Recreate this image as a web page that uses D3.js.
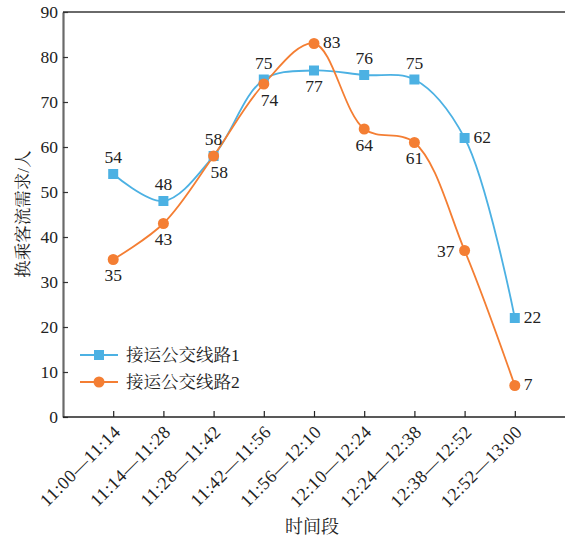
<!DOCTYPE html>
<html>
<head>
<meta charset="utf-8">
<script src="https://cdn.jsdelivr.net/npm/d3@7"></script>
<style>
  html, body { margin: 0; padding: 0; background: #fff; }
  svg { display: block; }
</style>
</head>
<body>
<svg id="chart" width="565" height="542"></svg>
<script>
// Time slots on the x axis
const periods = ["11:00—11:14", "11:14—11:28", "11:28—11:42", "11:42—11:56", "11:56—12:10",
                 "12:10—12:24", "12:24—12:38", "12:38—12:52", "12:52—13:00"];
// Transfer passenger demand per feeder bus line
const line1 = [54, 48, 58, 75, 77, 76, 75, 62, 22];
const line2 = [35, 43, 58, 74, 83, 64, 61, 37, 7];
const seriesNames = ["接运公交线路1", "接运公交线路2"];
const yTicks = [0, 10, 20, 30, 40, 50, 60, 70, 80, 90];
// Where each value label sits relative to its point
const pos1 = ["top", "top", "top", "top", "bottom", "top", "top", "right", "right"];
const pos2 = ["bottom", "bottom", "bottomright", "bottomright", "right", "bottom", "bottom", "left", "right"];

const colors = ["#4cb1e3", "#f47e33"];
const FONT = "'Liberation Serif', 'Times New Roman', 'Noto Serif CJK SC', 'Noto Sans CJK SC', serif";
const TXT = "#222";

const svg = d3.select("#chart");
const mLeft = 63, mRight = 565, mTop = 12, mBottom = 417;

const x = d3.scaleLinear().domain([-1, 9]).range([mLeft, mRight]);
const y = d3.scaleLinear().domain([0, 90]).range([mBottom, mTop]);

// Frame: top border in grey
svg.append("line").attr("x1", mLeft).attr("x2", mRight).attr("y1", mTop).attr("y2", mTop)
  .attr("stroke", "#6a6a6a").attr("stroke-width", 2.2);

// Y axis (ticks point into the plot)
const yAxis = svg.append("g").attr("transform", `translate(${mLeft},0)`)
  .call(d3.axisLeft(y).tickValues(yTicks).tickSizeInner(-5).tickSizeOuter(0).tickPadding(5));
yAxis.attr("font-family", FONT).attr("font-size", 17.5);
yAxis.select(".domain").attr("stroke", "#6a6a6a").attr("stroke-width", 2.2);
yAxis.selectAll(".tick line").attr("stroke", "#333").attr("stroke-width", 1.2);
yAxis.selectAll(".tick text").attr("fill", TXT);

// X axis with rotated period labels
const xAxis = svg.append("g").attr("transform", `translate(0,${mBottom})`)
  .call(d3.axisBottom(x).tickValues(d3.range(periods.length)).tickSizeOuter(0).tickSizeInner(-6)
    .tickFormat(i => periods[i]));
xAxis.attr("font-family", FONT).attr("font-size", 18);
xAxis.select(".domain").attr("stroke", "#222").attr("stroke-width", 1.5)
  .attr("d", `M${mLeft},0H${mRight}`);
xAxis.selectAll(".tick line").attr("stroke", "#222").attr("stroke-width", 1.2);
xAxis.selectAll(".tick text")
  .attr("fill", TXT)
  .attr("text-anchor", "end")
  .attr("letter-spacing", 0.6)
  .attr("dy", null).attr("y", 0)
  .attr("transform", "translate(8,16) rotate(-45)");

// Axis titles
svg.append("text").attr("x", 312).attr("y", 533).attr("text-anchor", "middle")
  .attr("font-family", FONT).attr("font-size", 18).attr("fill", TXT).text("时间段");
svg.append("text").attr("transform", "translate(29,214) rotate(-90)").attr("text-anchor", "middle")
  .attr("font-family", FONT).attr("font-size", 17.5).attr("fill", TXT).text("换乘客流需求/人");

const curve = d3.curveCatmullRom.alpha(0.5);
const lineGen = d3.line().x((d, i) => x(i)).y(d => y(d)).curve(curve);

[line1, line2].forEach((data, s) => {
  svg.append("path").datum(data).attr("d", lineGen)
    .attr("fill", "none").attr("stroke", colors[s]).attr("stroke-width", 1.8);
});

// Markers
svg.append("g").selectAll("rect").data(line1).join("rect")
  .attr("x", (d, i) => x(i) - 5).attr("y", d => y(d) - 5)
  .attr("width", 10).attr("height", 10).attr("fill", colors[0]);
svg.append("g").selectAll("circle").data(line2).join("circle")
  .attr("cx", (d, i) => x(i)).attr("cy", d => y(d)).attr("r", 5.5).attr("fill", colors[1]);

// Value labels
function offset(p) {
  switch (p) {
    case "top": return [0, -11, "middle"];
    case "bottom": return [0, 21.5, "middle"];
    case "right": return [9, 4.5, "start"];
    case "left": return [-10, 6, "end"];
    case "bottomright": return [-3, 21.5, "start"];
  }
}
[[line1, pos1], [line2, pos2]].forEach(([data, pos]) => {
  svg.append("g").attr("font-family", FONT).attr("font-size", 17.5).attr("fill", TXT)
    .selectAll("text").data(data).join("text")
    .attr("x", (d, i) => x(i) + offset(pos[i])[0])
    .attr("y", (d, i) => y(d) + offset(pos[i])[1])
    .attr("text-anchor", (d, i) => offset(pos[i])[2])
    .text(d => d);
});

// Legend
const legend = svg.append("g").attr("font-family", FONT).attr("font-size", 17.5).attr("fill", TXT);
seriesNames.forEach((name, s) => {
  const ly = 355 + s * 27;
  legend.append("line").attr("x1", 80).attr("x2", 118).attr("y1", ly).attr("y2", ly)
    .attr("stroke", colors[s]).attr("stroke-width", 1.8);
  if (s === 0) {
    legend.append("rect").attr("x", 94).attr("y", ly - 5).attr("width", 10).attr("height", 10).attr("fill", colors[s]);
  } else {
    legend.append("circle").attr("cx", 99).attr("cy", ly).attr("r", 5.5).attr("fill", colors[s]);
  }
  legend.append("text").attr("x", 126).attr("y", ly + 6).text(name);
});
</script>
</body>
</html>
